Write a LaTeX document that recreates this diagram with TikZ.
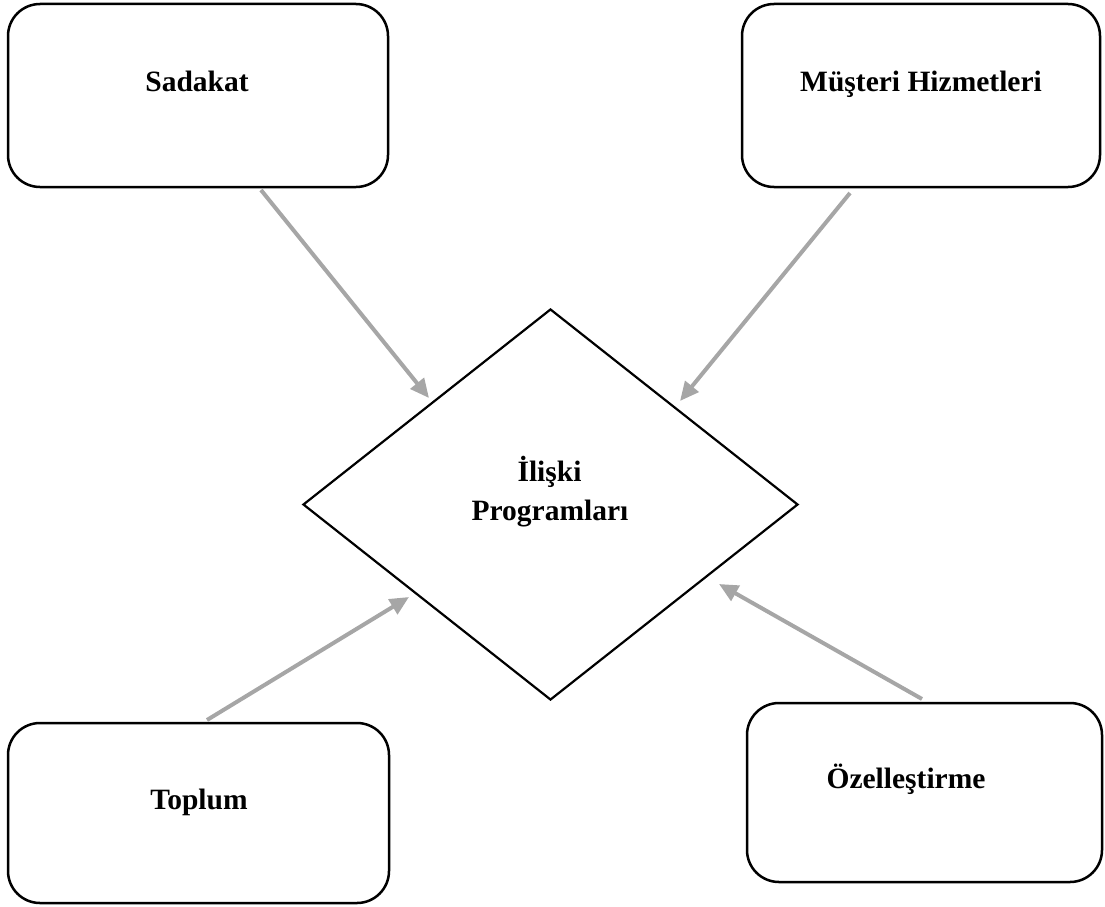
\documentclass[tikz,border=0pt]{standalone}
\usepackage{fontspec}
\setmainfont{Liberation Serif}
\usetikzlibrary{shapes.geometric,arrows.meta}

\tikzset{
  card/.style={draw=black, line width=2.5pt, rounded corners=32pt, fill=white, inner sep=0pt},
  hub/.style={draw=black, line width=2.2pt, diamond, inner sep=0pt, fill=white},
  caption/.style={font=\bfseries\fontsize{29.5}{39}\selectfont, anchor=base, inner sep=0pt},
  feed/.style={draw=black!35, line width=4pt, -{Triangle[length=19pt,width=17pt]}}
}

\begin{document}
\begin{tikzpicture}[x=1pt, y=-1pt]
  \useasboundingbox (0,0) rectangle (1105,907);

  % outer boxes
  \node[card, minimum width=380pt, minimum height=183pt] (sad) at (198,95.5) {};
  \node[card, minimum width=358pt, minimum height=183pt] (mus) at (921,95.5) {};
  \node[card, minimum width=381pt, minimum height=180pt] (top) at (198.5,813) {};
  \node[card, minimum width=355pt, minimum height=179pt] (oze) at (924.5,792.5) {};

  % central diamond
  \node[hub, minimum width=495pt, minimum height=391pt] (rel) at (550.5,504.5) {};

  % labels
  \node[caption] (sadT) at (197,92) {Sadakat};
  \node[caption] (musT) at (921,91) {Müşteri Hizmetleri};
  \node[caption] (topT) at (199,809) {Toplum};
  \node[caption] (ozeT) at (906,788) {Özelleştirme};
  \node[caption] (relA) at (549.5,481) {İlişki};
  \node[caption] (relB) at (550,520) {Programları};

  % connector ends
  \coordinate (s1) at (261,190);  \coordinate (e1) at (429,398);
  \coordinate (s2) at (850,193);  \coordinate (e2) at (680,401);
  \coordinate (s3) at (207,720);  \coordinate (e3) at (409,597);
  \coordinate (s4) at (922,699);  \coordinate (e4) at (719,584);

  % arrows into the diamond
  \draw[feed] (s1) -- (e1);
  \draw[feed] (s2) -- (e2);
  \draw[feed] (s3) -- (e3);
  \draw[feed] (s4) -- (e4);
\end{tikzpicture}
\end{document}
